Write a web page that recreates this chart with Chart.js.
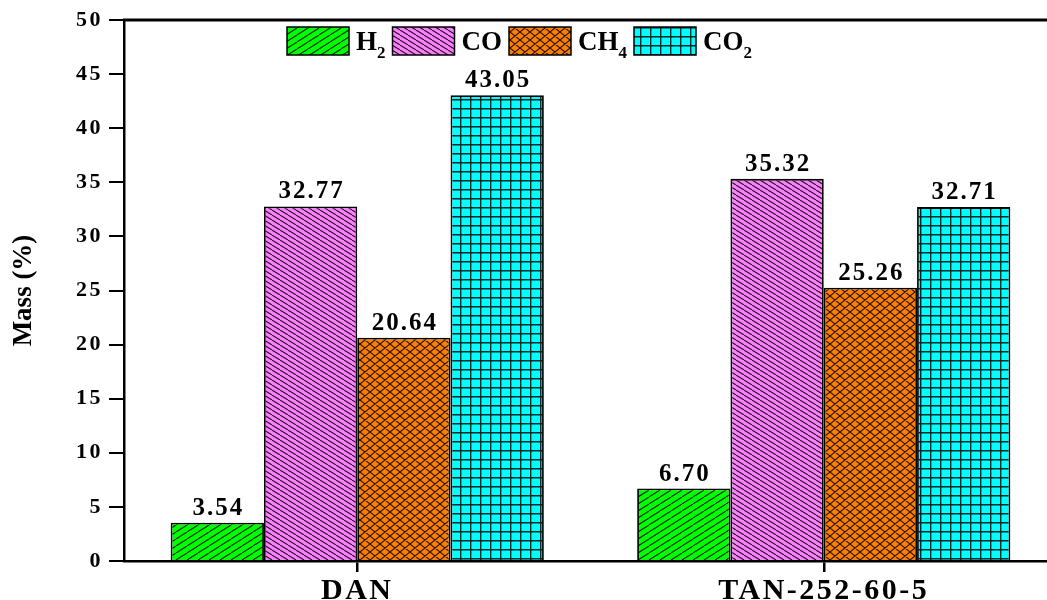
<!DOCTYPE html>
<html><head><meta charset="utf-8">
<script src="https://cdn.jsdelivr.net/npm/chart.js@4/dist/chart.umd.min.js"></script>
<style>html,body{margin:0;padding:0;overflow:hidden;background:#fff;width:1047px;height:600px}
canvas{position:absolute;left:0;top:0}</style></head>
<body><canvas id="c" width="1070" height="600"></canvas>
<script>
const categories = ['DAN', 'TAN-252-60-5'];
const seriesNames = ['H2', 'CO', 'CH4', 'CO2'];
const legendMain = ['H', 'CO', 'CH', 'CO'];
const legendSub = ['2', '', '4', '2'];
const h2Values = [3.54, 6.70];
const coValues = [32.77, 35.32];
const ch4Values = [20.64, 25.26];
const co2Values = [43.05, 32.71];
const h2Labels = ['3.54', '6.70'];
const coLabels = ['32.77', '35.32'];
const ch4Labels = ['20.64', '25.26'];
const co2Labels = ['43.05', '32.71'];
const yMin = 0, yMax = 50, yStep = 5;

const SERIF = '"Liberation Serif", "Times New Roman", serif';
const canvas = document.getElementById('c');
const ctx = canvas.getContext('2d');

function makePattern(w, h, bg, kind) {
  const c = document.createElement('canvas');
  c.width = w; c.height = h;
  const x = c.getContext('2d');
  x.fillStyle = bg; x.fillRect(0, 0, w, h);
  x.strokeStyle = 'rgba(0,0,0,0.85)';
  x.lineWidth = 1.1;
  x.beginPath();
  for (let k = -1; k <= 1; k++) {
    if (kind === 'fwd' || kind === 'cross') { x.moveTo(k * w, h); x.lineTo(k * w + w, 0); }
    if (kind === 'back' || kind === 'cross') { x.moveTo(k * w, 0); x.lineTo(k * w + w, h); }
  }
  if (kind === 'grid') {
    x.lineWidth = 1.4;
    x.moveTo(0, 0.7); x.lineTo(w, 0.7);
    x.moveTo(0.7, 0); x.lineTo(0.7, h);
  }
  x.stroke();
  return ctx.createPattern(c, 'repeat');
}

const patterns = [
  makePattern(11, 7, '#00FF00', 'fwd'),
  makePattern(8, 5, '#FF80FF', 'back'),
  makePattern(10, 8, '#FF8000', 'cross'),
  makePattern(10, 9, '#00FFFF', 'grid')
];
const seriesValues = [h2Values, coValues, ch4Values, co2Values];
const seriesLabels = [h2Labels, coLabels, ch4Labels, co2Labels];

const datasets = seriesNames.map((n, i) => ({
  label: n,
  data: seriesValues[i],
  backgroundColor: patterns[i],
  borderColor: '#000',
  borderWidth: 1.8,
  categoryPercentage: 0.8,
  barPercentage: 1.0
}));

const spacingPlugin = {
  id: 'spacing',
  beforeDraw(chart) { chart.ctx.letterSpacing = '0px'; }
};

const valueLabelPlugin = {
  id: 'valueLabels',
  afterDatasetsDraw(chart) {
    const c = chart.ctx;
    c.save();
    c.letterSpacing = '2px';
    c.font = 'bold 25px ' + SERIF;
    c.fillStyle = '#000';
    c.textAlign = 'center';
    c.textBaseline = 'alphabetic';
    chart.data.datasets.forEach((ds, i) => {
      chart.getDatasetMeta(i).data.forEach((el, j) => {
        c.fillText(seriesLabels[i][j], el.x + 1, el.y - 8);
      });
    });
    c.restore();
    // tick labels (drawn in a later layer) get wider spacing
    c.letterSpacing = '2.5px';
  }
};

const framePlugin = {
  id: 'frame',
  afterDraw(chart) {
    const c = chart.ctx, a = chart.chartArea;
    c.save();
    c.letterSpacing = '0px';
    c.strokeStyle = '#000';
    c.lineWidth = 3;
    c.beginPath();
    c.moveTo(a.left - 1, a.top);
    c.lineTo(a.right, a.top);
    c.stroke();
    // legend
    let x = 287;
    const top = 27, bw = 62, bh = 28, gap = 7;
    patterns.forEach((p, i) => {
      c.fillStyle = p;
      c.fillRect(x, top, bw, bh);
      c.lineWidth = 1.5;
      c.strokeStyle = '#000';
      c.strokeRect(x, top, bw, bh);
      x += bw + gap;
      c.fillStyle = '#000';
      c.textAlign = 'left';
      c.textBaseline = 'alphabetic';
      c.font = 'bold 27px ' + SERIF;
      c.fillText(legendMain[i], x, 50);
      x += c.measureText(legendMain[i]).width;
      if (legendSub[i]) {
        c.font = 'bold 17px ' + SERIF;
        c.fillText(legendSub[i], x, 58);
        x += c.measureText(legendSub[i]).width;
      }
      x += gap;
    });
    c.restore();
  }
};

new Chart(canvas, {
  type: 'bar',
  data: { labels: categories, datasets },
  options: {
    responsive: false,
    animation: false,
    devicePixelRatio: 1,
    layout: { padding: { top: 20, right: 13, left: 0, bottom: 0 } },
    plugins: { legend: { display: false }, tooltip: { enabled: false } },
    scales: {
      x: {
        afterFit(s) { s.height = 39; },
        grid: { display: true, drawOnChartArea: false, drawTicks: true, tickLength: 11, offset: false, color: '#000', lineWidth: 2.5 },
        border: { display: true, color: '#000', width: 2.5 },
        ticks: { z: 1, color: '#000', font: { family: SERIF, size: 30, weight: 'bold' }, padding: 1, maxRotation: 0 }
      },
      y: {
        min: yMin, max: yMax,
        afterFit(s) { s.width = 124; },
        grid: { display: true, drawOnChartArea: false, drawTicks: true, tickLength: 15, color: '#000', lineWidth: 2 },
        border: { display: true, color: '#000', width: 2.5 },
        ticks: { z: 1, stepSize: yStep, color: '#000', font: { family: SERIF, size: 22, weight: 'bold' }, padding: 6 },
        title: { display: true, text: 'Mass (%)', color: '#000', font: { family: SERIF, size: 27, weight: 'bold' }, padding: { top: 8, bottom: 0 } }
      }
    }
  },
  plugins: [spacingPlugin, valueLabelPlugin, framePlugin]
});
</script>
</body></html>
